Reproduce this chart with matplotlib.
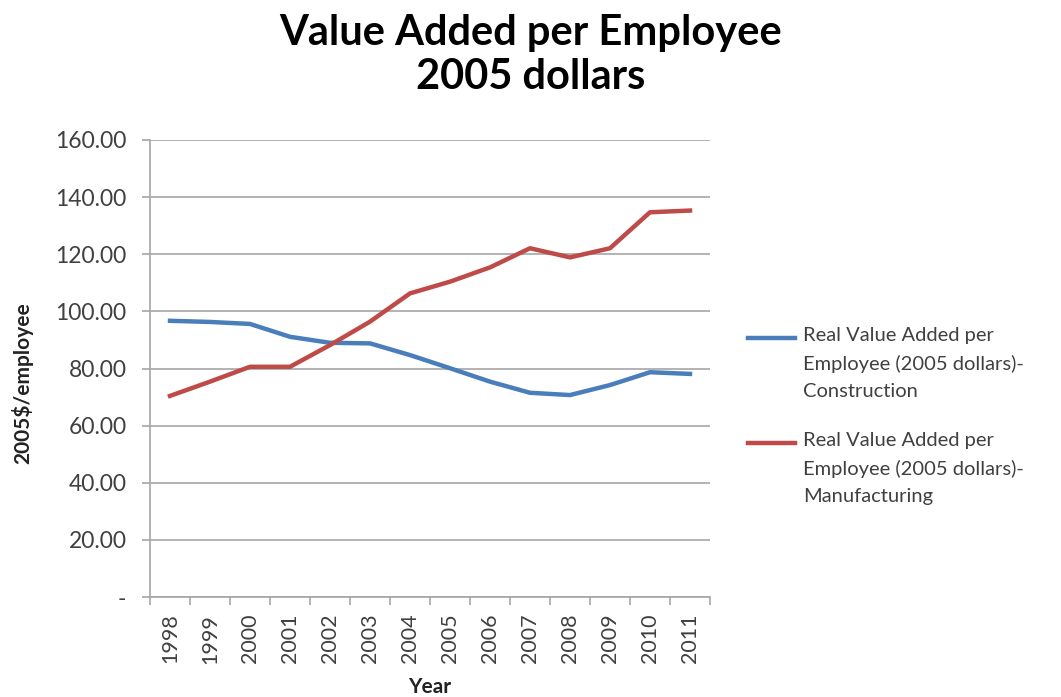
import matplotlib
matplotlib.use('Agg')
import matplotlib.pyplot as plt
from matplotlib.ticker import FuncFormatter, FixedLocator
from matplotlib.lines import Line2D
import numpy as np

plt.rcParams['font.family'] = ['Lato', 'DejaVu Sans']

years = ['1998', '1999', '2000', '2001', '2002', '2003', '2004',
         '2005', '2006', '2007', '2008', '2009', '2010', '2011']
construction = [96.7, 96.3, 95.6, 91.1, 89.0, 88.8, 84.7,
                80.1, 75.4, 71.5, 70.7, 74.2, 78.7, 78.1]
manufacturing = [70.4, 75.4, 80.6, 80.6, 88.2, 96.4, 106.3,
                 110.4, 115.4, 122.1, 118.9, 122.1, 134.7, 135.3]
label_con = 'Real Value Added per\nEmployee (2005 dollars)-\nConstruction'
label_man = 'Real Value Added per\nEmployee (2005 dollars)-\nManufacturing'
blue = '#4A7EBB'
red = '#BE4B48'

W, H = 1061, 697
fig = plt.figure(figsize=(W / 100, H / 100), dpi=100)
ax = fig.add_axes([150/W, 1 - 597/H, 560/W, 457/H])

x = np.arange(len(years))
ax.plot(x, construction, color=blue, lw=3.2)
ax.plot(x, manufacturing, color=red, lw=3.2)

ax.set_xlim(-0.5, len(years) - 0.5)
ax.set_ylim(0, 160)
ax.set_yticks(np.arange(0, 161, 20))
ax.yaxis.set_major_formatter(FuncFormatter(lambda v, p: '-' if v == 0 else f'{v:.2f}'))
ax.grid(axis='y', color='#A6A6A6', lw=1.2)
ax.set_axisbelow(True)

ax.set_xticks(x)
ax.set_xticklabels(years, rotation=90, fontsize=15.5, color='#404040')
ax.xaxis.set_minor_locator(FixedLocator(np.arange(-0.5, len(years), 1)))
ax.tick_params(axis='x', which='major', length=0, pad=12)
ax.tick_params(axis='x', which='minor', length=6, color='#A6A6A6', width=1.2)
ax.tick_params(axis='y', length=6, color='#A6A6A6', width=1.2, labelsize=16.5,
               labelcolor='#404040', pad=11)

for s in ['top', 'right']:
    ax.spines[s].set_visible(False)
for s in ['left', 'bottom']:
    ax.spines[s].set_color('#A6A6A6')
    ax.spines[s].set_linewidth(1.2)

ax.set_xlabel('Year', fontsize=15, fontweight='bold', color='#222222', va='center')
ax.xaxis.set_label_coords(0.5, -0.197)
ax.set_ylabel('2005$/employee', fontsize=15, fontweight='bold', color='#222222',
              va='center', ha='center')
ax.yaxis.set_label_coords(-0.229, 0.468)

fig.suptitle('Value Added per Employee\n2005 dollars', fontsize=30, fontweight='bold',
             y=0.98, linespacing=1.2)

# legend, Excel style: handle next to the first line of each entry
for (label, color, ytop) in [(label_con, blue, 338), (label_man, red, 443)]:
    fig.add_artist(Line2D([748/W, 795/W], [1 - ytop/H, 1 - ytop/H], color=color, lw=3.2))
    fig.text(803/W, 1 - (ytop - 11)/H, label, fontsize=14.5, color='#404040',
             va='top', ha='left', linespacing=1.72)

fig.savefig('out.png', dpi=100)
